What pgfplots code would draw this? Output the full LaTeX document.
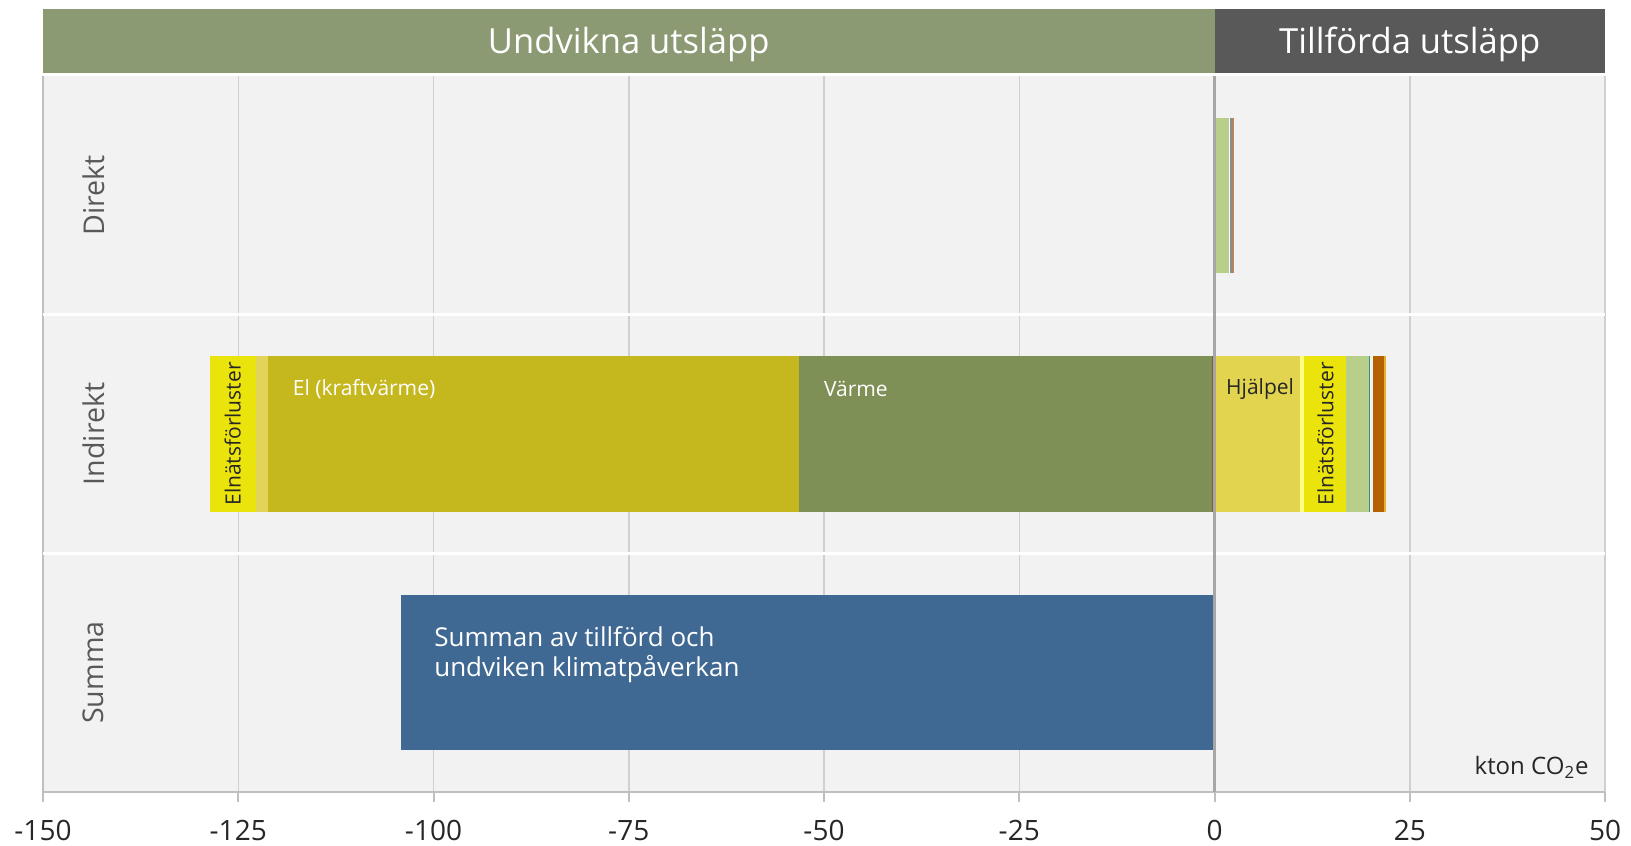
\documentclass[border=0pt]{standalone}
\usepackage{fontspec}
\setmainfont{Open Sans}
\usepackage{pgfplots}
\pgfplotsset{compat=1.18}
\definecolor{bg}{HTML}{F2F2F2}
\definecolor{hgreen}{HTML}{8C9A73}
\definecolor{hdark}{HTML}{595959}
\definecolor{varme}{HTML}{7F9057}
\definecolor{elkv}{HTML}{C5B71E}
\definecolor{lightneg}{HTML}{E2D35A}
\definecolor{elnat}{HTML}{EAE30C}
\definecolor{hjalpel}{HTML}{E3D450}
\definecolor{brightyel}{HTML}{FFFF80}
\definecolor{lgreen}{HTML}{B8CF8A}
\definecolor{teal}{HTML}{3A8F8A}
\definecolor{brorange}{HTML}{B56200}
\definecolor{thinyel}{HTML}{E8B030}
\definecolor{brownline}{HTML}{8B5A2B}
\definecolor{dirgray}{HTML}{8C8C8C}
\definecolor{dirorange}{HTML}{E07B39}
\definecolor{summa}{HTML}{3F6893}
\definecolor{zerogray}{HTML}{A6A6A6}
\definecolor{gridgray}{HTML}{D0D0D0}
\definecolor{axisgray}{HTML}{BFBFBF}
\definecolor{tickcol}{HTML}{262626}
\definecolor{labcol}{HTML}{595959}
\pgfplotsset{seg/.style={xbar, bar shift=0pt, bar width=0.65, draw=none, fill=#1}}
\begin{document}
\begin{tikzpicture}
\path[use as bounding box] (0,0) rectangle (815.5bp,423bp);
\begin{axis}[
  at={(21.5bp,27bp)}, anchor=south west,
  scale only axis, width=781bp, height=358bp,
  xmin=-150, xmax=50, ymin=0.5, ymax=3.5,
  clip=false,
  axis background/.style={fill=bg},
  axis lines*=left,
  axis line style={draw=axisgray, line width=1bp},
  xtick={-150,-125,...,50},
  xticklabels={-150,-125,-100,-75,-50,-25,0,25,50},
  ytick=\empty,
  xmajorgrids,
  major grid style={draw=gridgray, line width=0.75bp},
  tick align=outside, major tick length=5bp,
  x tick style={draw=axisgray, line width=1bp},
  xticklabel style={font=\fontsize{14bp}{16bp}\selectfont, text=tickcol, yshift=-5.5bp},
]
% row separators
\draw[white, line width=1.5bp] (axis cs:-150,1.5) -- (axis cs:50,1.5);
\draw[white, line width=1.5bp] (axis cs:-150,2.5) -- (axis cs:50,2.5);

% Direkt (y = 3): cumulative segment ends
\addplot[seg=dirorange] coordinates {(2.50,3)};
\addplot[seg=dirgray]   coordinates {(2.37,3)};
\addplot[seg=white]     coordinates {(1.98,3)};
\addplot[seg=lgreen]    coordinates {(1.86,3)};

% Indirekt (y = 2), negative side: cumulative segment ends
\addplot[seg=elnat]     coordinates {(-128.6,2)};
\addplot[seg=lightneg]  coordinates {(-122.7,2)};
\addplot[seg=elkv]      coordinates {(-121.2,2)};
\addplot[seg=varme]     coordinates {(-53.2,2)};
\addplot[seg=brownline] coordinates {(-0.3,2)};

% Indirekt (y = 2), positive side: cumulative segment ends
\addplot[seg=thinyel]   coordinates {(21.96,2)};
\addplot[seg=brorange]  coordinates {(21.7,2)};
\addplot[seg=bg]        coordinates {(20.3,2)};
\addplot[seg=teal]      coordinates {(19.95,2)};
\addplot[seg=lgreen]    coordinates {(19.8,2)};
\addplot[seg=elnat]     coordinates {(16.8,2)};
\addplot[seg=brightyel] coordinates {(11.46,2)};
\addplot[seg=hjalpel]   coordinates {(10.95,2)};

% Summa (y = 1)
\addplot[seg=summa]     coordinates {(-104.1,1)};

% zero line
\draw[zerogray, line width=1.5bp] (axis cs:0,0.5) -- (axis cs:0,3.5);

% header bands
\fill[hgreen] (rel axis cs:0,1.0042) rectangle (rel axis cs:0.75,1.0936);
\fill[hdark] (rel axis cs:0.75,1.0042) rectangle (rel axis cs:1,1.0936);
\node[text=white, font=\fontsize{17.3bp}{20bp}\selectfont] at (rel axis cs:0.375,1.0435) {Undvikna utsläpp};
\node[text=white, font=\fontsize{17.3bp}{20bp}\selectfont] at (rel axis cs:0.875,1.0435) {Tillförda utsläpp};

% row labels
\node[rotate=90, text=labcol, font=\fontsize{14.3bp}{16bp}\selectfont] at (axis cs:-143.5,3) {Direkt};
\node[rotate=90, text=labcol, font=\fontsize{14.3bp}{16bp}\selectfont] at (axis cs:-143.5,2) {Indirekt};
\node[rotate=90, text=labcol, font=\fontsize{14.3bp}{16bp}\selectfont] at (axis cs:-143.5,1) {Summa};

% segment labels
\node[anchor=west, text=white, font=\fontsize{10.5bp}{12bp}\selectfont] at (axis cs:-118.9,2.19) {El (kraftvärme)};
\node[anchor=west, text=white, font=\fontsize{10.5bp}{12bp}\selectfont] at (axis cs:-50.9,2.19) {Värme};
\node[anchor=west, text=tickcol, font=\fontsize{10.5bp}{12bp}\selectfont] at (axis cs:0.6,2.19) {Hjälpel};
\node[rotate=90, text=tickcol, font=\fontsize{10.5bp}{12bp}\selectfont] at (axis cs:-125.7,2) {Elnätsförluster};
\node[rotate=90, text=tickcol, font=\fontsize{10.5bp}{12bp}\selectfont] at (axis cs:14.2,2) {Elnätsförluster};
\node[anchor=west, align=left, text=white, font=\fontsize{13bp}{15bp}\selectfont] at (axis cs:-100.8,1.075) {Summan av tillförd och\\undviken klimatpåverkan};

% unit
\node[anchor=base east, text=tickcol, font=\fontsize{12bp}{14bp}\selectfont] at (rel axis cs:0.994,0.024) {kton CO\textsubscript{2}e};
\end{axis}
\end{tikzpicture}
\end{document}
